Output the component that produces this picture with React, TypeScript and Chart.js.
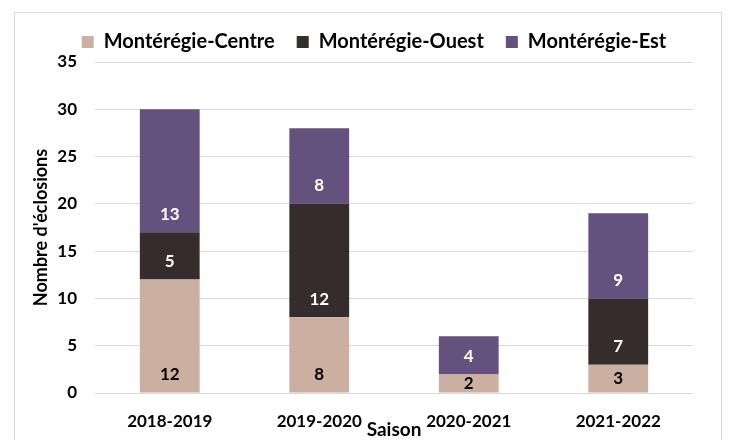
import React, { useEffect, useRef } from "react";
import { Chart, registerables } from "chart.js";

Chart.register(...registerables);

const seasons = ["2018-2019", "2019-2020", "2020-2021", "2021-2022"];
const centreValues = [12, 8, 2, 3];
const ouestValues = [5, 12, 0, 7];
const estValues = [13, 8, 4, 9];
const seriesNames = ["Montérégie-Centre", "Montérégie-Ouest", "Montérégie-Est"];
const yAxisTitle = "Nombre d'éclosions";
const xAxisTitle = "Saison";

const seriesColors = ["#CBAFA0", "#352C2C", "#65517E"];
const labelColors = ["#000000", "#FFFFFF", "#FFFFFF"];
const FONT = "Lato";

const framePlugin = {
  id: "frame",
  beforeDraw(chart: any) {
    const ctx = chart.ctx;
    ctx.save();
    ctx.fillStyle = "#FFFFFF";
    ctx.fillRect(0, 0, chart.width, chart.height);
    ctx.strokeStyle = "#D9D9D9";
    ctx.lineWidth = 1;
    ctx.strokeRect(14.5, 12.5, 707, 500);
    ctx.restore();
  },
};

const labelPlugin = {
  id: "segLabels",
  afterDatasetsDraw(chart: any) {
    const ctx = chart.ctx;
    ctx.save();
    ctx.font = `bold 17px ${FONT}`;
    ctx.textAlign = "center";
    ctx.textBaseline = "middle";
    chart.data.datasets.forEach((ds: any, di: number) => {
      const meta = chart.getDatasetMeta(di);
      meta.data.forEach((el: any, i: number) => {
        const v = ds.data[i];
        if (!v) return;
        const { x, y, base } = el.getProps(["x", "y", "base"], true);
        const h = base - y;
        const ly = h >= 36 ? base - 18 : (base + y) / 2;
        ctx.fillStyle = labelColors[di];
        ctx.fillText(String(v), x, ly);
      });
    });
    ctx.restore();
  },
};

const PAD_LEFT = 55;

export default function App() {
  const ref = useRef<HTMLCanvasElement | null>(null);

  useEffect(() => {
    if (!ref.current) return;
    const values = [centreValues, ouestValues, estValues];
    const chart = new Chart(ref.current, {
      type: "bar",
      data: {
        labels: seasons,
        datasets: seriesNames.map((name, i) => ({
          label: name,
          data: values[i],
          backgroundColor: seriesColors[i],
          borderWidth: 0,
          barPercentage: 0.4,
          categoryPercentage: 1,
        })),
      },
      options: {
        responsive: false,
        animation: false,
        devicePixelRatio: 1,
        layout: { padding: { top: 10, left: PAD_LEFT, right: 37, bottom: 0 } },
        plugins: {
          legend: {
            position: "top",
            labels: {
              boxWidth: 12,
              boxHeight: 12,
              padding: 22,
              color: "#000000",
              font: { family: FONT, size: 20, weight: "bold" },
            },
          },
          tooltip: { enabled: false },
        },
        scales: {
          x: {
            stacked: true,
            grid: { display: false, drawTicks: false },
            border: { display: false },
            ticks: {
              padding: 18,
              color: "#000000",
              font: { family: FONT, size: 17, weight: "bold" },
            },
            title: {
              display: true,
              text: xAxisTitle,
              color: "#000000",
              font: { family: FONT, size: 19, weight: "bold" },
              padding: { top: 0, bottom: -1 },
            },
            afterFit(scale: any) {
              scale.height = 47;
            },
          },
          y: {
            stacked: true,
            min: 0,
            max: 35,
            ticks: {
              stepSize: 5,
              padding: 18,
              color: "#000000",
              font: { family: FONT, size: 17, weight: "bold" },
            },
            grid: { color: "#D9D9D9", lineWidth: 1, drawTicks: false },
            border: { display: false },
            title: {
              display: true,
              text: yAxisTitle,
              color: "#000000",
              font: { family: FONT, size: 18, weight: "bold" },
              padding: { top: 41 - PAD_LEFT - 10.8, bottom: 0 },
            },
            afterFit(scale: any) {
              scale.width = 95 - PAD_LEFT;
            },
          },
        },
      },
      plugins: [framePlugin, labelPlugin],
    } as any);
    return () => chart.destroy();
  }, []);

  return (
    <div style={{ position: "fixed", left: 0, top: 0, width: 730, height: 440 }}>
      <canvas ref={ref} width={730} height={440} style={{ display: "block" }} />
    </div>
  );
}
